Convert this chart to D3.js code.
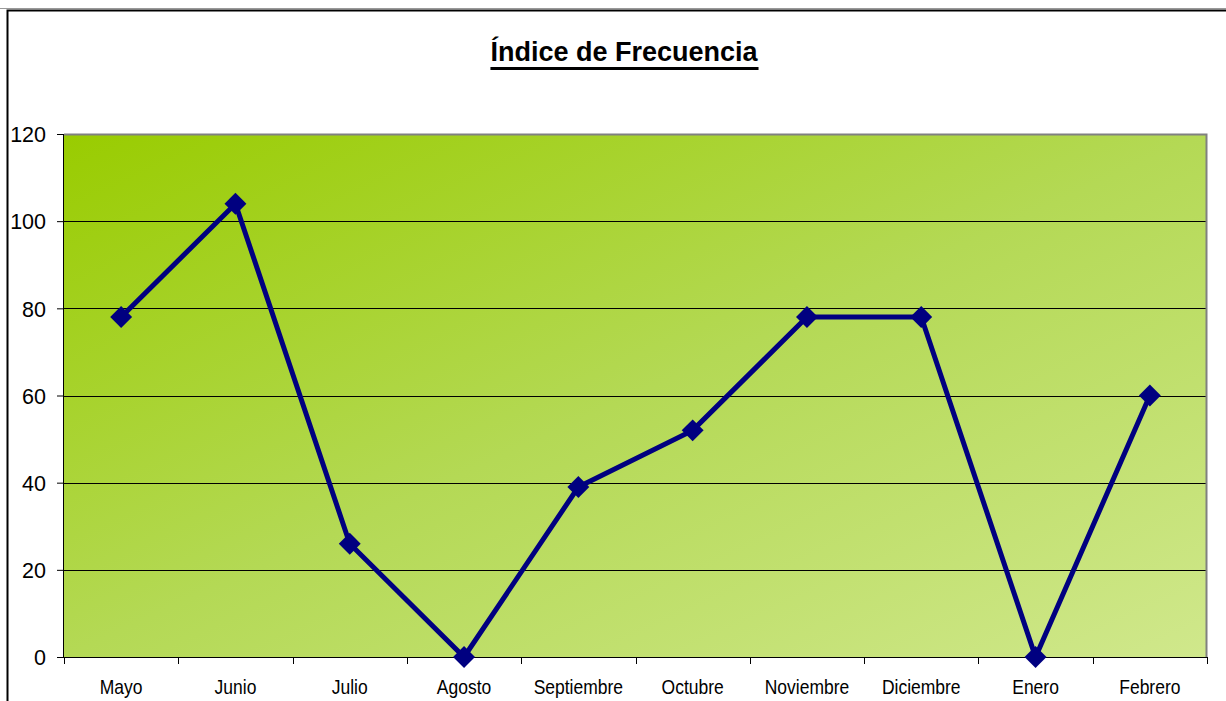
<!DOCTYPE html>
<html><head><meta charset="utf-8">
<script src="https://cdn.jsdelivr.net/npm/d3@7"></script>
<style>body{margin:0;background:#fff}svg{display:block}</style>
</head><body>
<script>
const categories = ["Mayo","Junio","Julio","Agosto","Septiembre","Octubre","Noviembre","Diciembre","Enero","Febrero"];
const values = [78,104,26,0,39,52,78,78,0,60];
const yTicks = [0,20,40,60,80,100,120];
const title = "Índice de Frecuencia";

const W = 1226, H = 701;
const m = {left:64, top:134, right:1226-1207, bottom:701-657};
const FONT = "Arial, 'Liberation Sans', sans-serif";
const svg = d3.select("body").append("svg").attr("width",W).attr("height",H);

// outer frame
svg.append("line").attr("x1",0).attr("x2",W).attr("y1",8.5).attr("y2",8.5).attr("stroke","#999").attr("stroke-width",1);
svg.append("path").attr("d",`M7.5,${H} V10.5 H${W}`).attr("fill","none").attr("stroke","#000").attr("stroke-width",2);

const x = d3.scaleBand().domain(categories).range([m.left, W-m.right]);
const y = d3.scaleLinear().domain([0,120]).range([H-m.bottom, m.top]);

const defs = svg.append("defs");
const g = defs.append("linearGradient").attr("id","bg").attr("x1","0").attr("y1","0").attr("x2","1").attr("y2","1");
g.append("stop").attr("offset","0").attr("stop-color","#99cc00");
g.append("stop").attr("offset","0.5").attr("stop-color","#b4d955");
g.append("stop").attr("offset","1").attr("stop-color","#d0e88c");

const px0 = m.left, px1 = W-m.right, py0 = m.top, py1 = H-m.bottom;
svg.append("rect").attr("x",px0).attr("y",py0).attr("width",px1-px0).attr("height",py1-py0).attr("fill","url(#bg)");
// grid
svg.append("g").selectAll("line").data(yTicks.filter(d=>d>0 && d<120)).join("line")
  .attr("x1",px0).attr("x2",px1).attr("y1",d=>Math.round(y(d))+0.5).attr("y2",d=>Math.round(y(d))+0.5)
  .attr("stroke","#000").attr("stroke-width",1);
// grey top/right border
svg.append("path").attr("d",`M${px0},${py0+0.5} H${px1-0.5} V${py1}`).attr("fill","none").attr("stroke","#808080").attr("stroke-width",2);

// y axis
const ya = svg.append("g").attr("transform",`translate(${px0},0)`)
  .call(d3.axisLeft(y).tickValues(yTicks).tickSize(7).tickPadding(11).tickFormat(d3.format("d")));
ya.selectAll("text").attr("font-family",FONT).attr("font-size","21.5px").attr("fill","#000").attr("dy","0.36em");
ya.select(".domain").attr("stroke","#000").attr("d",`M-0.5,${py0}V${py1}`);
ya.selectAll(".tick line").attr("stroke","#000");

// x axis
const xa = svg.append("g").attr("transform",`translate(0,${py1})`);
xa.append("line").attr("x1",px0).attr("x2",px1).attr("y1",0.5).attr("y2",0.5).attr("stroke","#000");
const bounds = categories.map(c=>x(c)).concat([x(categories[categories.length-1])+x.bandwidth()]);
xa.selectAll("line.t").data(bounds).join("line").attr("class","t")
  .attr("x1",d=>Math.round(d)+0.5).attr("x2",d=>Math.round(d)+0.5).attr("y1",0).attr("y2",7).attr("stroke","#000");
xa.selectAll("text").data(categories).join("text")
  .attr("transform",d=>`translate(${x(d)+x.bandwidth()/2},37) scale(1,1.12)`).attr("text-anchor","middle")
  .attr("font-family",FONT).attr("font-size","17.5px").attr("fill","#000").text(d=>d);

// line
const cx = (d,i)=>x(categories[i])+x.bandwidth()/2;
svg.append("path").datum(values)
  .attr("d",d3.line().x(cx).y(d=>y(d)))
  .attr("fill","none").attr("stroke","#000080").attr("stroke-width",5).attr("stroke-linejoin","miter");
svg.append("g").selectAll("path").data(values).join("path")
  .attr("d",d3.symbol().type(d3.symbolSquare).size(240))
  .attr("transform",(d,i)=>`translate(${cx(d,i)},${y(d)}) rotate(45)`)
  .attr("fill","#000080");

// title
const t = svg.append("text").attr("x",624).attr("y",61).attr("text-anchor","middle")
  .attr("font-family",FONT).attr("font-weight","bold").attr("font-size","27px")
  .attr("fill","#000").text(title);
const bb = t.node().getBBox();
svg.append("rect").attr("x",bb.x).attr("y",67).attr("width",bb.width).attr("height",3).attr("fill","#000");
</script>
</body></html>
